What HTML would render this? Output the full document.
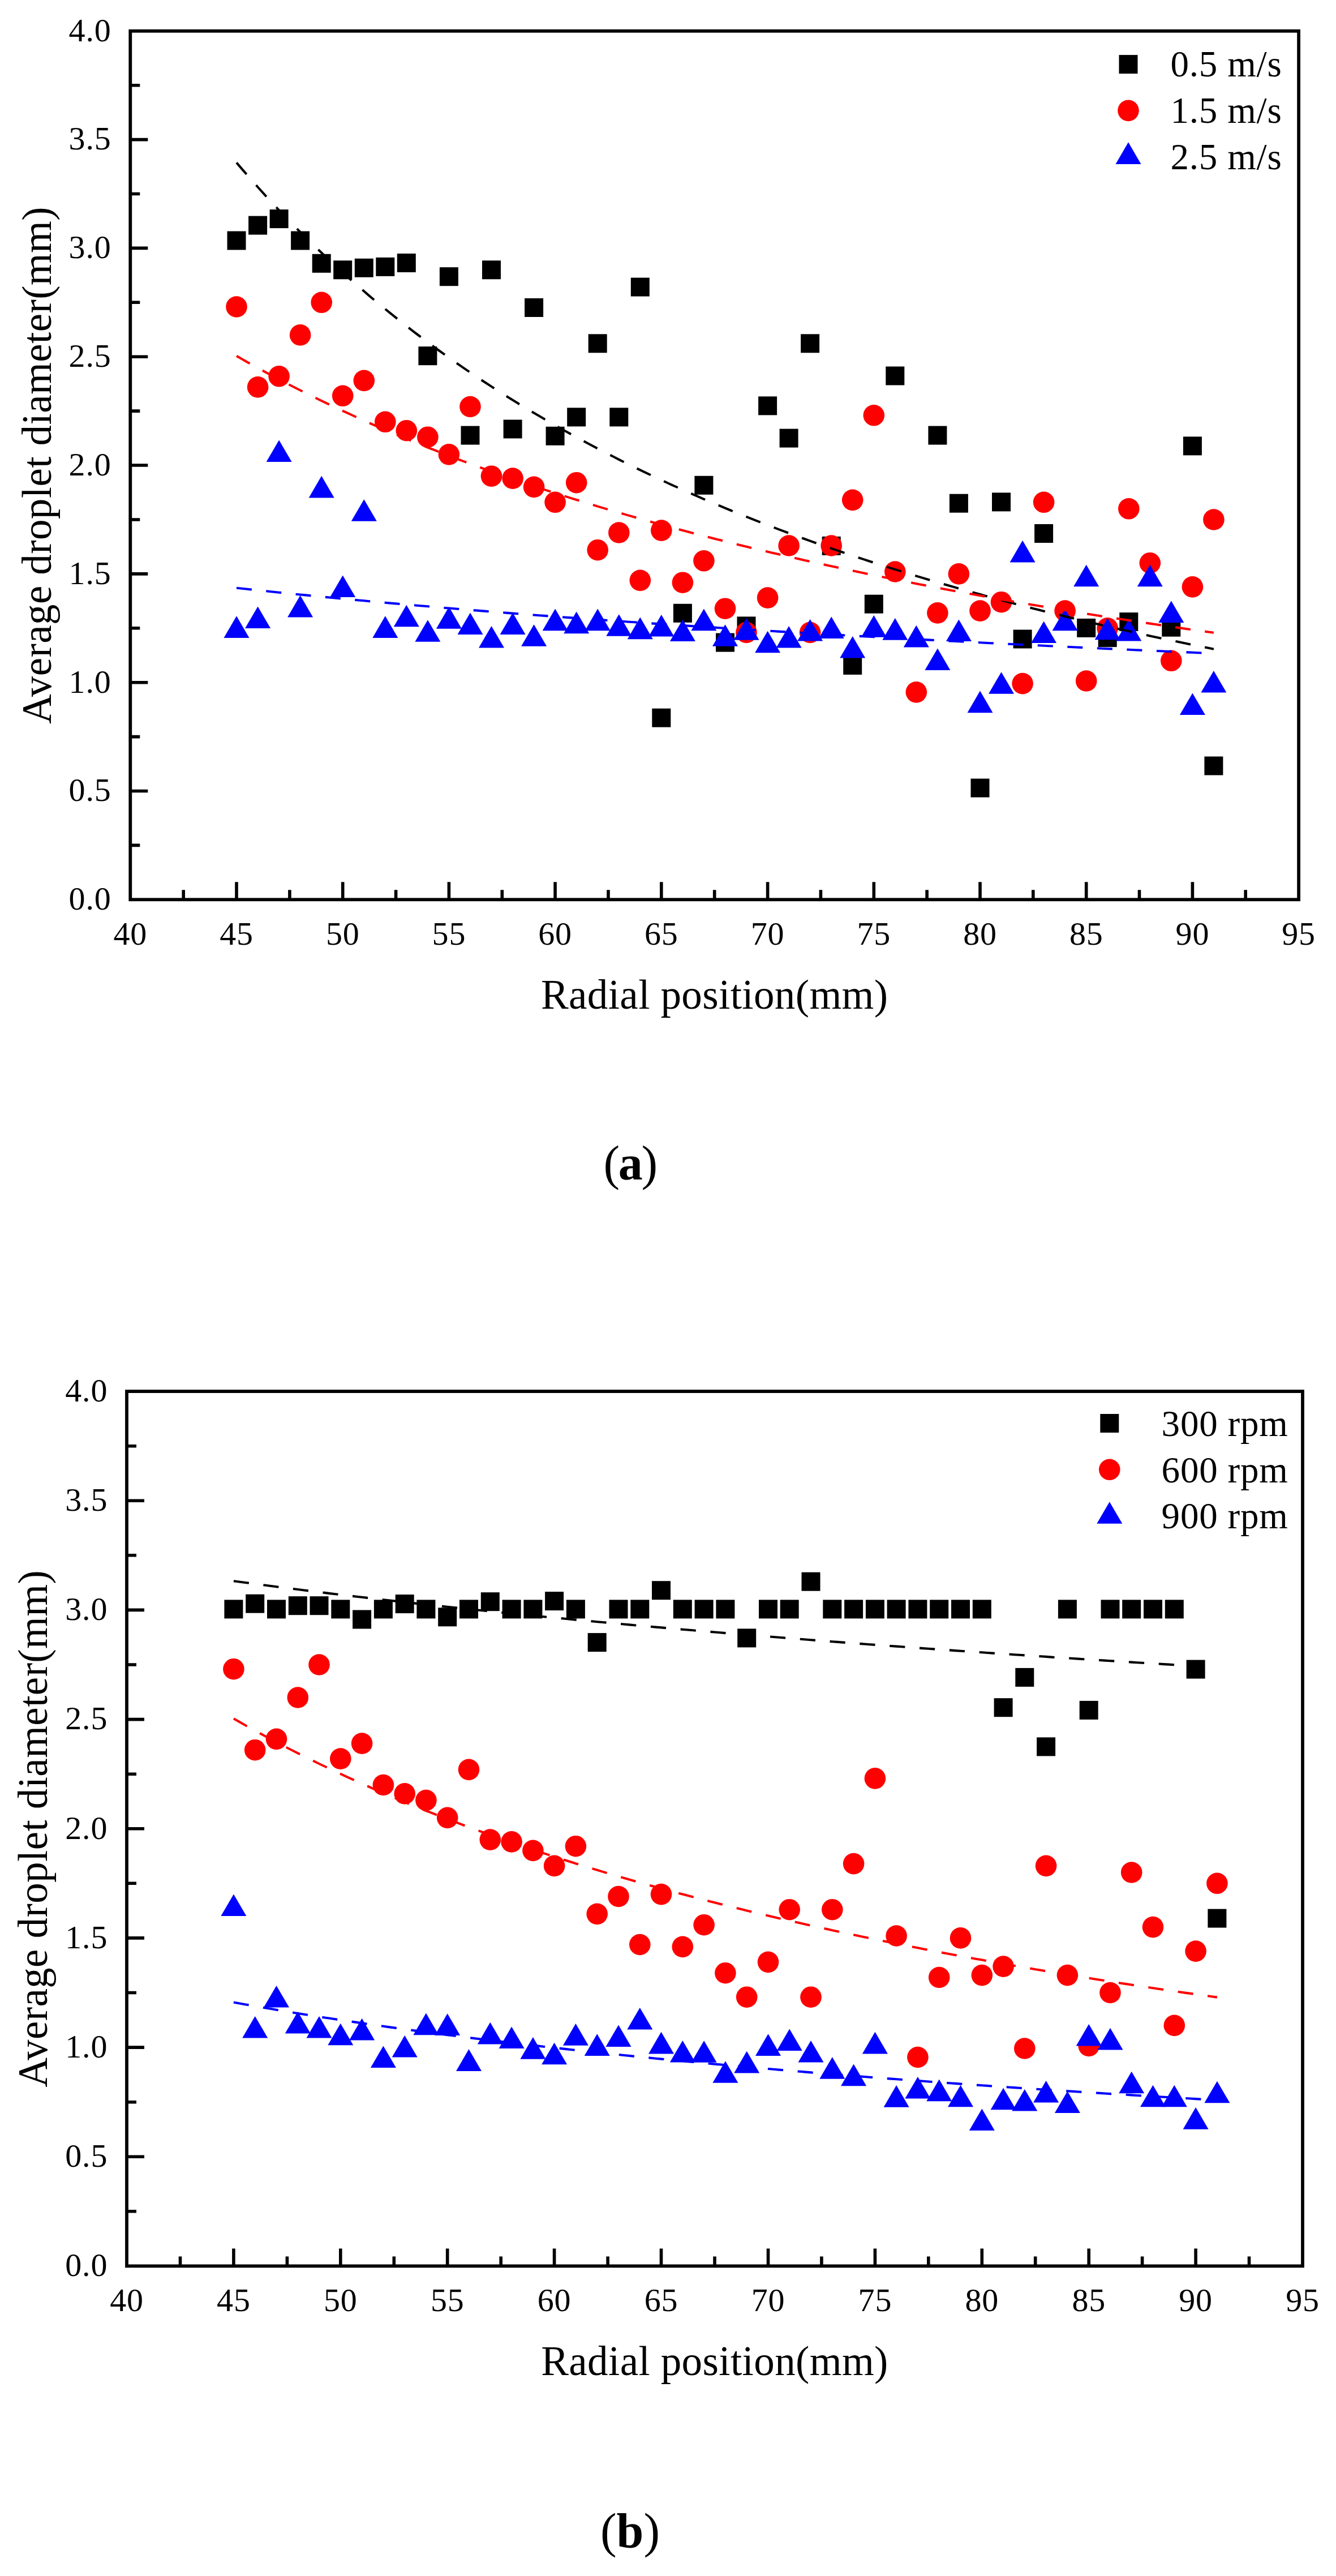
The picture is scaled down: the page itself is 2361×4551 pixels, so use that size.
<!DOCTYPE html>
<html><head><meta charset="utf-8"><title>Average droplet diameter vs radial position</title>
<style>html,body{margin:0;padding:0;background:#fff}svg{display:block}</style></head>
<body>
<svg width="2361" height="4551" viewBox="0 0 2361 4551">
<rect width="2361" height="4551" fill="#fff"/>
<path d="M324.2 1589.3v-17M418.0 1589.3v-31M511.9 1589.3v-17M605.7 1589.3v-31M699.6 1589.3v-17M793.4 1589.3v-31M887.3 1589.3v-17M981.1 1589.3v-31M1075.0 1589.3v-17M1168.8 1589.3v-31M1262.7 1589.3v-17M1356.6 1589.3v-31M1450.4 1589.3v-17M1544.3 1589.3v-31M1638.1 1589.3v-17M1732.0 1589.3v-31M1825.8 1589.3v-17M1919.7 1589.3v-31M2013.5 1589.3v-17M2107.4 1589.3v-31M2201.2 1589.3v-17M230.3 1493.4h17M230.3 1397.5h31M230.3 1301.6h17M230.3 1205.7h31M230.3 1109.8h17M230.3 1013.9h31M230.3 918.0h17M230.3 822.0h31M230.3 726.1h17M230.3 630.2h31M230.3 534.3h17M230.3 438.4h31M230.3 342.5h17M230.3 246.6h31M230.3 150.7h17" stroke="#000" stroke-width="5.6" fill="none"/>
<rect x="230.3" y="54.8" width="2064.8" height="1534.5" fill="none" stroke="#000" stroke-width="5.8"/>
<g style="font-family:'Liberation Serif','Times New Roman',serif;font-size:58px;letter-spacing:0.8px" fill="#000">
<text x="230.3" y="1668.5" text-anchor="middle">40</text>
<text x="418.0" y="1668.5" text-anchor="middle">45</text>
<text x="605.7" y="1668.5" text-anchor="middle">50</text>
<text x="793.4" y="1668.5" text-anchor="middle">55</text>
<text x="981.1" y="1668.5" text-anchor="middle">60</text>
<text x="1168.8" y="1668.5" text-anchor="middle">65</text>
<text x="1356.6" y="1668.5" text-anchor="middle">70</text>
<text x="1544.3" y="1668.5" text-anchor="middle">75</text>
<text x="1732.0" y="1668.5" text-anchor="middle">80</text>
<text x="1919.7" y="1668.5" text-anchor="middle">85</text>
<text x="2107.4" y="1668.5" text-anchor="middle">90</text>
<text x="2295.1" y="1668.5" text-anchor="middle">95</text>
<text x="196.5" y="1607.1" text-anchor="end">0.0</text>
<text x="196.5" y="1415.3" text-anchor="end">0.5</text>
<text x="196.5" y="1223.5" text-anchor="end">1.0</text>
<text x="196.5" y="1031.7" text-anchor="end">1.5</text>
<text x="196.5" y="839.8" text-anchor="end">2.0</text>
<text x="196.5" y="648.0" text-anchor="end">2.5</text>
<text x="196.5" y="456.2" text-anchor="end">3.0</text>
<text x="196.5" y="264.4" text-anchor="end">3.5</text>
<text x="196.5" y="72.6" text-anchor="end">4.0</text>
</g>
<text x="1262.7" y="1782.1" text-anchor="middle" style="font-family:'Liberation Serif','Times New Roman',serif;font-size:73px;letter-spacing:0.38px">Radial position(mm)</text>
<text transform="translate(90.0 822.0) rotate(-90)" text-anchor="middle" style="font-family:'Liberation Serif','Times New Roman',serif;font-size:73px;letter-spacing:0.4px">Average droplet diameter(mm)</text>
<g fill="#000">
<rect x="401.5" y="408.5" width="33" height="33"/>
<rect x="439.1" y="381.6" width="33" height="33"/>
<rect x="476.6" y="370.1" width="33" height="33"/>
<rect x="514.1" y="408.5" width="33" height="33"/>
<rect x="551.7" y="448.8" width="33" height="33"/>
<rect x="589.2" y="460.3" width="33" height="33"/>
<rect x="626.8" y="456.8" width="33" height="33"/>
<rect x="664.3" y="454.9" width="33" height="33"/>
<rect x="701.8" y="448.0" width="33" height="33"/>
<rect x="739.4" y="612.2" width="33" height="33"/>
<rect x="776.9" y="472.2" width="33" height="33"/>
<rect x="814.5" y="752.6" width="33" height="33"/>
<rect x="852.0" y="460.3" width="33" height="33"/>
<rect x="889.6" y="741.5" width="33" height="33"/>
<rect x="927.1" y="527.0" width="33" height="33"/>
<rect x="964.6" y="753.8" width="33" height="33"/>
<rect x="1002.2" y="720.4" width="33" height="33"/>
<rect x="1039.7" y="590.3" width="33" height="33"/>
<rect x="1077.3" y="720.4" width="33" height="33"/>
<rect x="1114.8" y="490.6" width="33" height="33"/>
<rect x="1152.3" y="1251.7" width="33" height="33"/>
<rect x="1189.9" y="1066.8" width="33" height="33"/>
<rect x="1227.4" y="840.8" width="33" height="33"/>
<rect x="1265.0" y="1118.6" width="33" height="33"/>
<rect x="1302.5" y="1089.4" width="33" height="33"/>
<rect x="1340.1" y="700.4" width="33" height="33"/>
<rect x="1377.6" y="757.6" width="33" height="33"/>
<rect x="1415.1" y="590.3" width="33" height="33"/>
<rect x="1452.7" y="947.9" width="33" height="33"/>
<rect x="1490.2" y="1158.9" width="33" height="33"/>
<rect x="1527.8" y="1050.7" width="33" height="33"/>
<rect x="1565.3" y="647.5" width="33" height="33"/>
<rect x="1640.4" y="752.6" width="33" height="33"/>
<rect x="1677.9" y="872.7" width="33" height="33"/>
<rect x="1715.5" y="1375.6" width="33" height="33"/>
<rect x="1753.0" y="870.4" width="33" height="33"/>
<rect x="1790.6" y="1112.5" width="33" height="33"/>
<rect x="1828.1" y="926.0" width="33" height="33"/>
<rect x="1903.2" y="1092.9" width="33" height="33"/>
<rect x="1940.7" y="1110.1" width="33" height="33"/>
<rect x="1978.3" y="1082.1" width="33" height="33"/>
<rect x="2053.3" y="1091.7" width="33" height="33"/>
<rect x="2090.9" y="771.4" width="33" height="33"/>
<rect x="2128.4" y="1336.5" width="33" height="33"/>
</g>
<g fill="#ff0000">
<circle cx="418.0" cy="542.0" r="18.8"/>
<circle cx="455.6" cy="683.9" r="18.8"/>
<circle cx="493.1" cy="664.8" r="18.8"/>
<circle cx="530.6" cy="591.9" r="18.8"/>
<circle cx="568.2" cy="534.3" r="18.8"/>
<circle cx="605.7" cy="699.3" r="18.8"/>
<circle cx="643.3" cy="672.4" r="18.8"/>
<circle cx="680.8" cy="745.3" r="18.8"/>
<circle cx="718.3" cy="760.7" r="18.8"/>
<circle cx="755.9" cy="772.2" r="18.8"/>
<circle cx="793.4" cy="802.9" r="18.8"/>
<circle cx="831.0" cy="718.5" r="18.8"/>
<circle cx="868.5" cy="841.2" r="18.8"/>
<circle cx="906.1" cy="845.1" r="18.8"/>
<circle cx="943.6" cy="860.4" r="18.8"/>
<circle cx="981.1" cy="887.3" r="18.8"/>
<circle cx="1018.7" cy="852.7" r="18.8"/>
<circle cx="1056.2" cy="971.7" r="18.8"/>
<circle cx="1093.8" cy="941.0" r="18.8"/>
<circle cx="1131.3" cy="1025.4" r="18.8"/>
<circle cx="1168.8" cy="937.1" r="18.8"/>
<circle cx="1206.4" cy="1029.2" r="18.8"/>
<circle cx="1243.9" cy="990.8" r="18.8"/>
<circle cx="1281.5" cy="1075.2" r="18.8"/>
<circle cx="1319.0" cy="1117.4" r="18.8"/>
<circle cx="1356.6" cy="1056.1" r="18.8"/>
<circle cx="1394.1" cy="964.0" r="18.8"/>
<circle cx="1431.6" cy="1117.4" r="18.8"/>
<circle cx="1469.2" cy="964.0" r="18.8"/>
<circle cx="1506.7" cy="883.4" r="18.8"/>
<circle cx="1544.3" cy="733.8" r="18.8"/>
<circle cx="1581.8" cy="1010.0" r="18.8"/>
<circle cx="1619.3" cy="1222.9" r="18.8"/>
<circle cx="1656.9" cy="1082.9" r="18.8"/>
<circle cx="1694.4" cy="1013.9" r="18.8"/>
<circle cx="1732.0" cy="1079.1" r="18.8"/>
<circle cx="1769.5" cy="1063.7" r="18.8"/>
<circle cx="1807.1" cy="1207.6" r="18.8"/>
<circle cx="1844.6" cy="887.3" r="18.8"/>
<circle cx="1882.1" cy="1079.1" r="18.8"/>
<circle cx="1919.7" cy="1203.0" r="18.8"/>
<circle cx="1957.2" cy="1109.8" r="18.8"/>
<circle cx="1994.8" cy="898.8" r="18.8"/>
<circle cx="2032.3" cy="994.7" r="18.8"/>
<circle cx="2069.8" cy="1167.3" r="18.8"/>
<circle cx="2107.4" cy="1036.9" r="18.8"/>
<circle cx="2144.9" cy="918.0" r="18.8"/>
</g>
<g fill="#0000ff">
<path d="M395.5 1126.9h45l-22.5 -38.6z"/>
<path d="M433.1 1110.0h45l-22.5 -38.6z"/>
<path d="M470.6 816.1h45l-22.5 -38.6z"/>
<path d="M508.1 1090.4h45l-22.5 -38.6z"/>
<path d="M545.7 879.4h45l-22.5 -38.6z"/>
<path d="M583.2 1055.1h45l-22.5 -38.6z"/>
<path d="M620.8 920.8h45l-22.5 -38.6z"/>
<path d="M658.3 1126.9h45l-22.5 -38.6z"/>
<path d="M695.8 1107.3h45l-22.5 -38.6z"/>
<path d="M733.4 1133.8h45l-22.5 -38.6z"/>
<path d="M770.9 1110.7h45l-22.5 -38.6z"/>
<path d="M808.5 1121.1h45l-22.5 -38.6z"/>
<path d="M846.0 1144.5h45l-22.5 -38.6z"/>
<path d="M883.6 1121.1h45l-22.5 -38.6z"/>
<path d="M921.1 1141.8h45l-22.5 -38.6z"/>
<path d="M958.6 1114.2h45l-22.5 -38.6z"/>
<path d="M996.2 1119.2h45l-22.5 -38.6z"/>
<path d="M1033.7 1114.2h45l-22.5 -38.6z"/>
<path d="M1071.3 1123.8h45l-22.5 -38.6z"/>
<path d="M1108.8 1129.2h45l-22.5 -38.6z"/>
<path d="M1146.3 1124.6h45l-22.5 -38.6z"/>
<path d="M1183.9 1133.0h45l-22.5 -38.6z"/>
<path d="M1221.4 1114.2h45l-22.5 -38.6z"/>
<path d="M1259.0 1141.8h45l-22.5 -38.6z"/>
<path d="M1296.5 1130.7h45l-22.5 -38.6z"/>
<path d="M1334.1 1153.3h45l-22.5 -38.6z"/>
<path d="M1371.6 1144.5h45l-22.5 -38.6z"/>
<path d="M1409.1 1132.6h45l-22.5 -38.6z"/>
<path d="M1446.7 1128.0h45l-22.5 -38.6z"/>
<path d="M1484.2 1162.5h45l-22.5 -38.6z"/>
<path d="M1521.8 1125.7h45l-22.5 -38.6z"/>
<path d="M1559.3 1130.7h45l-22.5 -38.6z"/>
<path d="M1596.8 1143.4h45l-22.5 -38.6z"/>
<path d="M1634.4 1184.0h45l-22.5 -38.6z"/>
<path d="M1671.9 1133.0h45l-22.5 -38.6z"/>
<path d="M1709.5 1259.2h45l-22.5 -38.6z"/>
<path d="M1747.0 1225.8h45l-22.5 -38.6z"/>
<path d="M1784.6 993.4h45l-22.5 -38.6z"/>
<path d="M1822.1 1136.1h45l-22.5 -38.6z"/>
<path d="M1859.6 1114.2h45l-22.5 -38.6z"/>
<path d="M1897.2 1036.3h45l-22.5 -38.6z"/>
<path d="M1934.7 1130.3h45l-22.5 -38.6z"/>
<path d="M1972.3 1132.6h45l-22.5 -38.6z"/>
<path d="M2009.8 1036.3h45l-22.5 -38.6z"/>
<path d="M2047.3 1100.0h45l-22.5 -38.6z"/>
<path d="M2084.9 1263.0h45l-22.5 -38.6z"/>
<path d="M2122.4 1223.5h45l-22.5 -38.6z"/>
</g>
<polyline points="418.0,287.4 427.4,298.4 436.8,309.2 446.2,319.9 455.6,330.5 464.9,340.9 474.3,351.1 483.7,361.3 493.1,371.3 502.5,381.1 511.9,390.9 521.2,400.5 530.6,409.9 540.0,419.3 549.4,428.5 558.8,437.6 568.2,446.6 577.6,455.5 586.9,464.2 596.3,472.9 605.7,481.4 615.1,489.9 624.5,498.2 633.9,506.4 643.3,514.5 652.6,522.6 662.0,530.5 671.4,538.3 680.8,546.0 690.2,553.7 699.6,561.2 709.0,568.7 718.3,576.0 727.7,583.3 737.1,590.5 746.5,597.6 755.9,604.7 765.3,611.6 774.7,618.5 784.0,625.2 793.4,632.0 802.8,638.6 812.2,645.1 821.6,651.6 831.0,658.0 840.4,664.4 849.7,670.6 859.1,676.8 868.5,682.9 877.9,689.0 887.3,695.0 896.7,700.9 906.1,706.8 915.4,712.6 924.8,718.3 934.2,724.0 943.6,729.6 953.0,735.1 962.4,740.6 971.8,746.1 981.1,751.4 990.5,756.8 999.9,762.0 1009.3,767.2 1018.7,772.4 1028.1,777.5 1037.4,782.5 1046.8,787.5 1056.2,792.5 1065.6,797.4 1075.0,802.2 1084.4,807.0 1093.8,811.8 1103.1,816.5 1112.5,821.1 1121.9,825.8 1131.3,830.3 1140.7,834.8 1150.1,839.3 1159.5,843.7 1168.8,848.1 1178.2,852.5 1187.6,856.8 1197.0,861.0 1206.4,865.3 1215.8,869.5 1225.2,873.6 1234.5,877.7 1243.9,881.8 1253.3,885.8 1262.7,889.8 1272.1,893.7 1281.5,897.6 1290.9,901.5 1300.2,905.4 1309.6,909.2 1319.0,912.9 1328.4,916.7 1337.8,920.4 1347.2,924.0 1356.6,927.7 1365.9,931.3 1375.3,934.9 1384.7,938.4 1394.1,941.9 1403.5,945.4 1412.9,948.8 1422.3,952.2 1431.6,955.6 1441.0,959.0 1450.4,962.3 1459.8,965.6 1469.2,968.9 1478.6,972.1 1488.0,975.3 1497.3,978.5 1506.7,981.7 1516.1,984.8 1525.5,987.9 1534.9,991.0 1544.3,994.1 1553.6,997.1 1563.0,1000.1 1572.4,1003.1 1581.8,1006.0 1591.2,1008.9 1600.6,1011.8 1610.0,1014.7 1619.3,1017.6 1628.7,1020.4 1638.1,1023.2 1647.5,1026.0 1656.9,1028.8 1666.3,1031.5 1675.7,1034.2 1685.0,1036.9 1694.4,1039.6 1703.8,1042.3 1713.2,1044.9 1722.6,1047.5 1732.0,1050.1 1741.4,1052.7 1750.7,1055.2 1760.1,1057.7 1769.5,1060.3 1778.9,1062.7 1788.3,1065.2 1797.7,1067.7 1807.1,1070.1 1816.4,1072.5 1825.8,1074.9 1835.2,1077.3 1844.6,1079.7 1854.0,1082.0 1863.4,1084.3 1872.8,1086.6 1882.1,1088.9 1891.5,1091.2 1900.9,1093.5 1910.3,1095.7 1919.7,1097.9 1929.1,1100.1 1938.5,1102.3 1947.8,1104.5 1957.2,1106.6 1966.6,1108.8 1976.0,1110.9 1985.4,1113.0 1994.8,1115.1 2004.2,1117.2 2013.5,1119.3 2022.9,1121.3 2032.3,1123.4 2041.7,1125.4 2051.1,1127.4 2060.5,1129.4 2069.8,1131.3 2079.2,1133.3 2088.6,1135.3 2098.0,1137.2 2107.4,1139.1 2116.8,1141.0 2126.2,1142.9 2135.5,1144.8 2144.9,1146.7" fill="none" stroke="#000" stroke-width="4.1" stroke-dasharray="27.13 25.62"/>
<polyline points="418.0,628.9 427.4,634.3 436.8,639.6 446.2,644.8 455.6,650.0 464.9,655.1 474.3,660.2 483.7,665.2 493.1,670.2 502.5,675.1 511.9,680.0 521.2,684.8 530.6,689.5 540.0,694.2 549.4,698.9 558.8,703.5 568.2,708.1 577.6,712.6 586.9,717.1 596.3,721.5 605.7,725.9 615.1,730.2 624.5,734.5 633.9,738.8 643.3,743.0 652.6,747.2 662.0,751.3 671.4,755.4 680.8,759.4 690.2,763.4 699.6,767.4 709.0,771.3 718.3,775.2 727.7,779.1 737.1,782.9 746.5,786.7 755.9,790.5 765.3,794.2 774.7,797.9 784.0,801.5 793.4,805.2 802.8,808.7 812.2,812.3 821.6,815.8 831.0,819.3 840.4,822.8 849.7,826.2 859.1,829.6 868.5,832.9 877.9,836.3 887.3,839.6 896.7,842.9 906.1,846.1 915.4,849.3 924.8,852.5 934.2,855.7 943.6,858.8 953.0,862.0 962.4,865.1 971.8,868.1 981.1,871.1 990.5,874.2 999.9,877.1 1009.3,880.1 1018.7,883.0 1028.1,886.0 1037.4,888.8 1046.8,891.7 1056.2,894.6 1065.6,897.4 1075.0,900.2 1084.4,902.9 1093.8,905.7 1103.1,908.4 1112.5,911.1 1121.9,913.8 1131.3,916.5 1140.7,919.1 1150.1,921.8 1159.5,924.4 1168.8,926.9 1178.2,929.5 1187.6,932.1 1197.0,934.6 1206.4,937.1 1215.8,939.6 1225.2,942.0 1234.5,944.5 1243.9,946.9 1253.3,949.3 1262.7,951.7 1272.1,954.1 1281.5,956.5 1290.9,958.8 1300.2,961.1 1309.6,963.4 1319.0,965.7 1328.4,968.0 1337.8,970.3 1347.2,972.5 1356.6,974.7 1365.9,976.9 1375.3,979.1 1384.7,981.3 1394.1,983.5 1403.5,985.6 1412.9,987.8 1422.3,989.9 1431.6,992.0 1441.0,994.1 1450.4,996.1 1459.8,998.2 1469.2,1000.2 1478.6,1002.3 1488.0,1004.3 1497.3,1006.3 1506.7,1008.3 1516.1,1010.3 1525.5,1012.2 1534.9,1014.2 1544.3,1016.1 1553.6,1018.0 1563.0,1019.9 1572.4,1021.8 1581.8,1023.7 1591.2,1025.6 1600.6,1027.5 1610.0,1029.3 1619.3,1031.2 1628.7,1033.0 1638.1,1034.8 1647.5,1036.6 1656.9,1038.4 1666.3,1040.2 1675.7,1041.9 1685.0,1043.7 1694.4,1045.4 1703.8,1047.2 1713.2,1048.9 1722.6,1050.6 1732.0,1052.3 1741.4,1054.0 1750.7,1055.7 1760.1,1057.3 1769.5,1059.0 1778.9,1060.6 1788.3,1062.3 1797.7,1063.9 1807.1,1065.5 1816.4,1067.1 1825.8,1068.7 1835.2,1070.3 1844.6,1071.9 1854.0,1073.5 1863.4,1075.0 1872.8,1076.6 1882.1,1078.1 1891.5,1079.7 1900.9,1081.2 1910.3,1082.7 1919.7,1084.2 1929.1,1085.7 1938.5,1087.2 1947.8,1088.7 1957.2,1090.1 1966.6,1091.6 1976.0,1093.1 1985.4,1094.5 1994.8,1095.9 2004.2,1097.4 2013.5,1098.8 2022.9,1100.2 2032.3,1101.6 2041.7,1103.0 2051.1,1104.4 2060.5,1105.8 2069.8,1107.1 2079.2,1108.5 2088.6,1109.9 2098.0,1111.2 2107.4,1112.5 2116.8,1113.9 2126.2,1115.2 2135.5,1116.5 2144.9,1117.8" fill="none" stroke="#ff0000" stroke-width="4.1" stroke-dasharray="27.07 25.56"/>
<polyline points="418.0,1038.7 427.4,1039.7 436.8,1040.8 446.2,1041.8 455.6,1042.8 464.9,1043.8 474.3,1044.7 483.7,1045.7 493.1,1046.7 502.5,1047.6 511.9,1048.6 521.2,1049.6 530.6,1050.5 540.0,1051.4 549.4,1052.4 558.8,1053.3 568.2,1054.2 577.6,1055.1 586.9,1056.0 596.3,1056.9 605.7,1057.8 615.1,1058.7 624.5,1059.6 633.9,1060.5 643.3,1061.3 652.6,1062.2 662.0,1063.0 671.4,1063.9 680.8,1064.7 690.2,1065.6 699.6,1066.4 709.0,1067.3 718.3,1068.1 727.7,1068.9 737.1,1069.7 746.5,1070.5 755.9,1071.3 765.3,1072.1 774.7,1072.9 784.0,1073.7 793.4,1074.5 802.8,1075.3 812.2,1076.1 821.6,1076.8 831.0,1077.6 840.4,1078.4 849.7,1079.1 859.1,1079.9 868.5,1080.6 877.9,1081.4 887.3,1082.1 896.7,1082.9 906.1,1083.6 915.4,1084.3 924.8,1085.0 934.2,1085.8 943.6,1086.5 953.0,1087.2 962.4,1087.9 971.8,1088.6 981.1,1089.3 990.5,1090.0 999.9,1090.7 1009.3,1091.4 1018.7,1092.1 1028.1,1092.7 1037.4,1093.4 1046.8,1094.1 1056.2,1094.8 1065.6,1095.4 1075.0,1096.1 1084.4,1096.7 1093.8,1097.4 1103.1,1098.0 1112.5,1098.7 1121.9,1099.3 1131.3,1100.0 1140.7,1100.6 1150.1,1101.3 1159.5,1101.9 1168.8,1102.5 1178.2,1103.1 1187.6,1103.8 1197.0,1104.4 1206.4,1105.0 1215.8,1105.6 1225.2,1106.2 1234.5,1106.8 1243.9,1107.4 1253.3,1108.0 1262.7,1108.6 1272.1,1109.2 1281.5,1109.8 1290.9,1110.4 1300.2,1111.0 1309.6,1111.6 1319.0,1112.2 1328.4,1112.7 1337.8,1113.3 1347.2,1113.9 1356.6,1114.4 1365.9,1115.0 1375.3,1115.6 1384.7,1116.1 1394.1,1116.7 1403.5,1117.3 1412.9,1117.8 1422.3,1118.4 1431.6,1118.9 1441.0,1119.5 1450.4,1120.0 1459.8,1120.5 1469.2,1121.1 1478.6,1121.6 1488.0,1122.1 1497.3,1122.7 1506.7,1123.2 1516.1,1123.7 1525.5,1124.3 1534.9,1124.8 1544.3,1125.3 1553.6,1125.8 1563.0,1126.3 1572.4,1126.8 1581.8,1127.3 1591.2,1127.9 1600.6,1128.4 1610.0,1128.9 1619.3,1129.4 1628.7,1129.9 1638.1,1130.4 1647.5,1130.9 1656.9,1131.4 1666.3,1131.8 1675.7,1132.3 1685.0,1132.8 1694.4,1133.3 1703.8,1133.8 1713.2,1134.3 1722.6,1134.7 1732.0,1135.2 1741.4,1135.7 1750.7,1136.2 1760.1,1136.6 1769.5,1137.1 1778.9,1137.6 1788.3,1138.0 1797.7,1138.5 1807.1,1139.0 1816.4,1139.4 1825.8,1139.9 1835.2,1140.3 1844.6,1140.8 1854.0,1141.2 1863.4,1141.7 1872.8,1142.1 1882.1,1142.6 1891.5,1143.0 1900.9,1143.5 1910.3,1143.9 1919.7,1144.3 1929.1,1144.8 1938.5,1145.2 1947.8,1145.7 1957.2,1146.1 1966.6,1146.5 1976.0,1146.9 1985.4,1147.4 1994.8,1147.8 2004.2,1148.2 2013.5,1148.6 2022.9,1149.1 2032.3,1149.5 2041.7,1149.9 2051.1,1150.3 2060.5,1150.7 2069.8,1151.1 2079.2,1151.6 2088.6,1152.0 2098.0,1152.4 2107.4,1152.8 2116.8,1153.2 2126.2,1153.6 2135.5,1154.0 2144.9,1154.4" fill="none" stroke="#0000ff" stroke-width="4.1" stroke-dasharray="27.04 25.54"/>
<g style="font-family:'Liberation Serif','Times New Roman',serif;font-size:65px;letter-spacing:0.8px">
<g fill="#000"><rect x="1977.5" y="97.1" width="33" height="33"/></g><text x="2068.5" y="134.7">0.5 m/s</text>
<g fill="#ff0000"><circle cx="1994.0" cy="195.4" r="18.8"/></g><text x="2068.5" y="216.5">1.5 m/s</text>
<g fill="#0000ff"><path d="M1971.5 289.9h45l-22.5 -38.6z"/></g><text x="2068.5" y="298.6">2.5 m/s</text>
</g>
<text x="1112" y="2084" text-anchor="middle" style="font-family:'Liberation Serif','Times New Roman',serif;font-size:86px"><tspan dx="2.3">(</tspan><tspan font-weight="bold" dx="-2.3">a</tspan><tspan dx="-2.3">)</tspan></text>
<path d="M318.5 4003.4v-17M412.9 4003.4v-31M507.4 4003.4v-17M601.8 4003.4v-31M696.3 4003.4v-17M790.7 4003.4v-31M885.2 4003.4v-17M979.6 4003.4v-31M1074.1 4003.4v-17M1168.5 4003.4v-31M1263.0 4003.4v-17M1357.5 4003.4v-31M1451.9 4003.4v-17M1546.4 4003.4v-31M1640.8 4003.4v-17M1735.3 4003.4v-31M1829.7 4003.4v-17M1924.2 4003.4v-31M2018.6 4003.4v-17M2113.1 4003.4v-31M2207.5 4003.4v-17M224 3906.8h17M224 3810.2h31M224 3713.7h17M224 3617.1h31M224 3520.5h17M224 3423.9h31M224 3327.3h17M224 3230.8h31M224 3134.2h17M224 3037.6h31M224 2941.0h17M224 2844.4h31M224 2747.8h17M224 2651.3h31M224 2554.7h17" stroke="#000" stroke-width="5.6" fill="none"/>
<rect x="224" y="2458.1" width="2078.0" height="1545.3" fill="none" stroke="#000" stroke-width="5.8"/>
<g style="font-family:'Liberation Serif','Times New Roman',serif;font-size:58px;letter-spacing:0.8px" fill="#000">
<text x="224.0" y="4082.6" text-anchor="middle">40</text>
<text x="412.9" y="4082.6" text-anchor="middle">45</text>
<text x="601.8" y="4082.6" text-anchor="middle">50</text>
<text x="790.7" y="4082.6" text-anchor="middle">55</text>
<text x="979.6" y="4082.6" text-anchor="middle">60</text>
<text x="1168.5" y="4082.6" text-anchor="middle">65</text>
<text x="1357.5" y="4082.6" text-anchor="middle">70</text>
<text x="1546.4" y="4082.6" text-anchor="middle">75</text>
<text x="1735.3" y="4082.6" text-anchor="middle">80</text>
<text x="1924.2" y="4082.6" text-anchor="middle">85</text>
<text x="2113.1" y="4082.6" text-anchor="middle">90</text>
<text x="2302.0" y="4082.6" text-anchor="middle">95</text>
<text x="190.2" y="4021.2" text-anchor="end">0.0</text>
<text x="190.2" y="3828.0" text-anchor="end">0.5</text>
<text x="190.2" y="3634.9" text-anchor="end">1.0</text>
<text x="190.2" y="3441.7" text-anchor="end">1.5</text>
<text x="190.2" y="3248.6" text-anchor="end">2.0</text>
<text x="190.2" y="3055.4" text-anchor="end">2.5</text>
<text x="190.2" y="2862.2" text-anchor="end">3.0</text>
<text x="190.2" y="2669.1" text-anchor="end">3.5</text>
<text x="190.2" y="2475.9" text-anchor="end">4.0</text>
</g>
<text x="1263.0" y="4196.2" text-anchor="middle" style="font-family:'Liberation Serif','Times New Roman',serif;font-size:73px;letter-spacing:0.38px">Radial position(mm)</text>
<text transform="translate(82.5 3230.8) rotate(-90)" text-anchor="middle" style="font-family:'Liberation Serif','Times New Roman',serif;font-size:73px;letter-spacing:0.4px">Average droplet diameter(mm)</text>
<g fill="#000">
<rect x="396.4" y="2826.4" width="33" height="33"/>
<rect x="434.2" y="2816.7" width="33" height="33"/>
<rect x="472.0" y="2826.4" width="33" height="33"/>
<rect x="509.8" y="2820.2" width="33" height="33"/>
<rect x="547.5" y="2820.2" width="33" height="33"/>
<rect x="585.3" y="2826.4" width="33" height="33"/>
<rect x="623.1" y="2844.5" width="33" height="33"/>
<rect x="660.9" y="2826.4" width="33" height="33"/>
<rect x="698.7" y="2817.1" width="33" height="33"/>
<rect x="736.4" y="2826.4" width="33" height="33"/>
<rect x="774.2" y="2840.3" width="33" height="33"/>
<rect x="812.0" y="2826.4" width="33" height="33"/>
<rect x="849.8" y="2813.2" width="33" height="33"/>
<rect x="887.6" y="2826.4" width="33" height="33"/>
<rect x="925.4" y="2826.4" width="33" height="33"/>
<rect x="963.1" y="2812.1" width="33" height="33"/>
<rect x="1000.9" y="2826.4" width="33" height="33"/>
<rect x="1038.7" y="2885.1" width="33" height="33"/>
<rect x="1076.5" y="2826.4" width="33" height="33"/>
<rect x="1114.3" y="2826.4" width="33" height="33"/>
<rect x="1152.0" y="2793.2" width="33" height="33"/>
<rect x="1189.8" y="2826.4" width="33" height="33"/>
<rect x="1227.6" y="2826.4" width="33" height="33"/>
<rect x="1265.4" y="2826.4" width="33" height="33"/>
<rect x="1303.2" y="2877.4" width="33" height="33"/>
<rect x="1341.0" y="2826.4" width="33" height="33"/>
<rect x="1378.7" y="2826.4" width="33" height="33"/>
<rect x="1416.5" y="2777.7" width="33" height="33"/>
<rect x="1454.3" y="2826.4" width="33" height="33"/>
<rect x="1492.1" y="2826.4" width="33" height="33"/>
<rect x="1529.9" y="2826.4" width="33" height="33"/>
<rect x="1567.6" y="2826.4" width="33" height="33"/>
<rect x="1605.4" y="2826.4" width="33" height="33"/>
<rect x="1643.2" y="2826.4" width="33" height="33"/>
<rect x="1681.0" y="2826.4" width="33" height="33"/>
<rect x="1718.8" y="2826.4" width="33" height="33"/>
<rect x="1756.6" y="3000.2" width="33" height="33"/>
<rect x="1794.3" y="2946.9" width="33" height="33"/>
<rect x="1832.1" y="3069.4" width="33" height="33"/>
<rect x="1869.9" y="2826.4" width="33" height="33"/>
<rect x="1907.7" y="3004.9" width="33" height="33"/>
<rect x="1945.5" y="2826.4" width="33" height="33"/>
<rect x="1983.2" y="2826.4" width="33" height="33"/>
<rect x="2021.0" y="2826.4" width="33" height="33"/>
<rect x="2058.8" y="2826.4" width="33" height="33"/>
<rect x="2096.6" y="2932.6" width="33" height="33"/>
<rect x="2134.4" y="3372.6" width="33" height="33"/>
</g>
<g fill="#ff0000">
<circle cx="412.9" cy="2948.7" r="18.8"/>
<circle cx="450.7" cy="3091.7" r="18.8"/>
<circle cx="488.5" cy="3072.4" r="18.8"/>
<circle cx="526.3" cy="2999.0" r="18.8"/>
<circle cx="564.0" cy="2941.0" r="18.8"/>
<circle cx="601.8" cy="3107.1" r="18.8"/>
<circle cx="639.6" cy="3080.1" r="18.8"/>
<circle cx="677.4" cy="3153.5" r="18.8"/>
<circle cx="715.2" cy="3168.9" r="18.8"/>
<circle cx="752.9" cy="3180.5" r="18.8"/>
<circle cx="790.7" cy="3211.4" r="18.8"/>
<circle cx="828.5" cy="3126.4" r="18.8"/>
<circle cx="866.3" cy="3250.1" r="18.8"/>
<circle cx="904.1" cy="3253.9" r="18.8"/>
<circle cx="941.9" cy="3269.4" r="18.8"/>
<circle cx="979.6" cy="3296.4" r="18.8"/>
<circle cx="1017.4" cy="3261.7" r="18.8"/>
<circle cx="1055.2" cy="3381.4" r="18.8"/>
<circle cx="1093.0" cy="3350.5" r="18.8"/>
<circle cx="1130.8" cy="3435.5" r="18.8"/>
<circle cx="1168.5" cy="3346.6" r="18.8"/>
<circle cx="1206.3" cy="3439.4" r="18.8"/>
<circle cx="1244.1" cy="3400.7" r="18.8"/>
<circle cx="1281.9" cy="3485.7" r="18.8"/>
<circle cx="1319.7" cy="3528.2" r="18.8"/>
<circle cx="1357.5" cy="3466.4" r="18.8"/>
<circle cx="1395.2" cy="3373.7" r="18.8"/>
<circle cx="1433.0" cy="3528.2" r="18.8"/>
<circle cx="1470.8" cy="3373.7" r="18.8"/>
<circle cx="1508.6" cy="3292.6" r="18.8"/>
<circle cx="1546.4" cy="3141.9" r="18.8"/>
<circle cx="1584.1" cy="3420.0" r="18.8"/>
<circle cx="1621.9" cy="3634.5" r="18.8"/>
<circle cx="1659.7" cy="3493.5" r="18.8"/>
<circle cx="1697.5" cy="3423.9" r="18.8"/>
<circle cx="1735.3" cy="3489.6" r="18.8"/>
<circle cx="1773.1" cy="3474.1" r="18.8"/>
<circle cx="1810.8" cy="3619.0" r="18.8"/>
<circle cx="1848.6" cy="3296.4" r="18.8"/>
<circle cx="1886.4" cy="3489.6" r="18.8"/>
<circle cx="1924.2" cy="3614.4" r="18.8"/>
<circle cx="1962.0" cy="3520.5" r="18.8"/>
<circle cx="1999.7" cy="3308.0" r="18.8"/>
<circle cx="2037.5" cy="3404.6" r="18.8"/>
<circle cx="2075.3" cy="3578.4" r="18.8"/>
<circle cx="2113.1" cy="3447.1" r="18.8"/>
<circle cx="2150.9" cy="3327.3" r="18.8"/>
</g>
<g fill="#0000ff">
<path d="M390.4 3385.0h45l-22.5 -38.6z"/>
<path d="M428.2 3600.6h45l-22.5 -38.6z"/>
<path d="M466.0 3546.5h45l-22.5 -38.6z"/>
<path d="M503.8 3592.5h45l-22.5 -38.6z"/>
<path d="M541.5 3600.6h45l-22.5 -38.6z"/>
<path d="M579.3 3613.3h45l-22.5 -38.6z"/>
<path d="M617.1 3604.4h45l-22.5 -38.6z"/>
<path d="M654.9 3653.1h45l-22.5 -38.6z"/>
<path d="M692.7 3634.6h45l-22.5 -38.6z"/>
<path d="M730.4 3595.2h45l-22.5 -38.6z"/>
<path d="M768.2 3595.9h45l-22.5 -38.6z"/>
<path d="M806.0 3658.9h45l-22.5 -38.6z"/>
<path d="M843.8 3611.4h45l-22.5 -38.6z"/>
<path d="M881.6 3619.1h45l-22.5 -38.6z"/>
<path d="M919.4 3637.7h45l-22.5 -38.6z"/>
<path d="M957.1 3647.3h45l-22.5 -38.6z"/>
<path d="M994.9 3613.7h45l-22.5 -38.6z"/>
<path d="M1032.7 3631.9h45l-22.5 -38.6z"/>
<path d="M1070.5 3616.0h45l-22.5 -38.6z"/>
<path d="M1108.3 3585.5h45l-22.5 -38.6z"/>
<path d="M1146.0 3628.4h45l-22.5 -38.6z"/>
<path d="M1183.8 3643.5h45l-22.5 -38.6z"/>
<path d="M1221.6 3643.8h45l-22.5 -38.6z"/>
<path d="M1259.4 3679.8h45l-22.5 -38.6z"/>
<path d="M1297.2 3662.4h45l-22.5 -38.6z"/>
<path d="M1335.0 3631.9h45l-22.5 -38.6z"/>
<path d="M1372.7 3623.0h45l-22.5 -38.6z"/>
<path d="M1410.5 3643.5h45l-22.5 -38.6z"/>
<path d="M1448.3 3672.8h45l-22.5 -38.6z"/>
<path d="M1486.1 3685.2h45l-22.5 -38.6z"/>
<path d="M1523.9 3628.4h45l-22.5 -38.6z"/>
<path d="M1561.6 3722.7h45l-22.5 -38.6z"/>
<path d="M1599.4 3707.6h45l-22.5 -38.6z"/>
<path d="M1637.2 3712.2h45l-22.5 -38.6z"/>
<path d="M1675.0 3722.3h45l-22.5 -38.6z"/>
<path d="M1712.8 3764.0h45l-22.5 -38.6z"/>
<path d="M1750.6 3727.3h45l-22.5 -38.6z"/>
<path d="M1788.3 3729.6h45l-22.5 -38.6z"/>
<path d="M1826.1 3714.5h45l-22.5 -38.6z"/>
<path d="M1863.9 3733.1h45l-22.5 -38.6z"/>
<path d="M1901.7 3614.5h45l-22.5 -38.6z"/>
<path d="M1939.5 3621.4h45l-22.5 -38.6z"/>
<path d="M1977.2 3698.3h45l-22.5 -38.6z"/>
<path d="M2015.0 3722.3h45l-22.5 -38.6z"/>
<path d="M2052.8 3722.3h45l-22.5 -38.6z"/>
<path d="M2090.6 3761.7h45l-22.5 -38.6z"/>
<path d="M2128.4 3715.3h45l-22.5 -38.6z"/>
</g>
<polyline points="412.9,2793.2 422.4,2794.5 431.8,2795.8 441.2,2797.0 450.7,2798.3 460.1,2799.5 469.6,2800.8 479.0,2802.0 488.5,2803.2 497.9,2804.4 507.4,2805.7 516.8,2806.9 526.3,2808.0 535.7,2809.2 545.1,2810.4 554.6,2811.6 564.0,2812.8 573.5,2813.9 582.9,2815.1 592.4,2816.2 601.8,2817.3 611.3,2818.5 620.7,2819.6 630.2,2820.7 639.6,2821.8 649.0,2822.9 658.5,2824.0 667.9,2825.1 677.4,2826.2 686.8,2827.3 696.3,2828.4 705.7,2829.4 715.2,2830.5 724.6,2831.5 734.1,2832.6 743.5,2833.6 752.9,2834.7 762.4,2835.7 771.8,2836.7 781.3,2837.8 790.7,2838.8 800.2,2839.8 809.6,2840.8 819.1,2841.8 828.5,2842.8 838.0,2843.8 847.4,2844.8 856.8,2845.7 866.3,2846.7 875.7,2847.7 885.2,2848.6 894.6,2849.6 904.1,2850.5 913.5,2851.5 923.0,2852.4 932.4,2853.4 941.9,2854.3 951.3,2855.2 960.7,2856.2 970.2,2857.1 979.6,2858.0 989.1,2858.9 998.5,2859.8 1008.0,2860.7 1017.4,2861.6 1026.9,2862.5 1036.3,2863.4 1045.8,2864.3 1055.2,2865.2 1064.6,2866.0 1074.1,2866.9 1083.5,2867.8 1093.0,2868.6 1102.4,2869.5 1111.9,2870.4 1121.3,2871.2 1130.8,2872.1 1140.2,2872.9 1149.7,2873.7 1159.1,2874.6 1168.5,2875.4 1178.0,2876.2 1187.4,2877.1 1196.9,2877.9 1206.3,2878.7 1215.8,2879.5 1225.2,2880.3 1234.7,2881.1 1244.1,2881.9 1253.6,2882.7 1263.0,2883.5 1272.4,2884.3 1281.9,2885.1 1291.3,2885.9 1300.8,2886.7 1310.2,2887.4 1319.7,2888.2 1329.1,2889.0 1338.6,2889.8 1348.0,2890.5 1357.5,2891.3 1366.9,2892.0 1376.3,2892.8 1385.8,2893.5 1395.2,2894.3 1404.7,2895.0 1414.1,2895.8 1423.6,2896.5 1433.0,2897.3 1442.5,2898.0 1451.9,2898.7 1461.4,2899.5 1470.8,2900.2 1480.2,2900.9 1489.7,2901.6 1499.1,2902.3 1508.6,2903.0 1518.0,2903.8 1527.5,2904.5 1536.9,2905.2 1546.4,2905.9 1555.8,2906.6 1565.3,2907.3 1574.7,2908.0 1584.1,2908.6 1593.6,2909.3 1603.0,2910.0 1612.5,2910.7 1621.9,2911.4 1631.4,2912.1 1640.8,2912.7 1650.3,2913.4 1659.7,2914.1 1669.2,2914.7 1678.6,2915.4 1688.0,2916.1 1697.5,2916.7 1706.9,2917.4 1716.4,2918.0 1725.8,2918.7 1735.3,2919.3 1744.7,2920.0 1754.2,2920.6 1763.6,2921.3 1773.1,2921.9 1782.5,2922.5 1791.9,2923.2 1801.4,2923.8 1810.8,2924.4 1820.3,2925.1 1829.7,2925.7 1839.2,2926.3 1848.6,2926.9 1858.1,2927.6 1867.5,2928.2 1877.0,2928.8 1886.4,2929.4 1895.8,2930.0 1905.3,2930.6 1914.7,2931.2 1924.2,2931.8 1933.6,2932.4 1943.1,2933.0 1952.5,2933.6 1962.0,2934.2 1971.4,2934.8 1980.9,2935.4 1990.3,2936.0 1999.7,2936.6 2009.2,2937.2 2018.6,2937.8 2028.1,2938.3 2037.5,2938.9 2047.0,2939.5 2056.4,2940.1 2065.9,2940.6 2075.3,2941.2 2084.8,2941.8 2094.2,2942.4 2103.6,2942.9 2113.1,2943.5 2122.5,2944.0 2132.0,2944.6 2141.4,2945.2 2150.9,2945.7" fill="none" stroke="#000" stroke-width="4.1" stroke-dasharray="27.24 25.72"/>
<polyline points="412.9,3036.2 422.4,3041.6 431.8,3047.0 441.2,3052.3 450.7,3057.5 460.1,3062.6 469.6,3067.8 479.0,3072.8 488.5,3077.8 497.9,3082.8 507.4,3087.7 516.8,3092.5 526.3,3097.3 535.7,3102.0 545.1,3106.7 554.6,3111.4 564.0,3116.0 573.5,3120.5 582.9,3125.0 592.4,3129.5 601.8,3133.9 611.3,3138.3 620.7,3142.6 630.2,3146.9 639.6,3151.1 649.0,3155.3 658.5,3159.5 667.9,3163.6 677.4,3167.7 686.8,3171.7 696.3,3175.7 705.7,3179.7 715.2,3183.6 724.6,3187.5 734.1,3191.4 743.5,3195.2 752.9,3199.0 762.4,3202.7 771.8,3206.4 781.3,3210.1 790.7,3213.7 800.2,3217.3 809.6,3220.9 819.1,3224.5 828.5,3228.0 838.0,3231.5 847.4,3234.9 856.8,3238.3 866.3,3241.7 875.7,3245.1 885.2,3248.4 894.6,3251.7 904.1,3255.0 913.5,3258.2 923.0,3261.5 932.4,3264.6 941.9,3267.8 951.3,3270.9 960.7,3274.1 970.2,3277.1 979.6,3280.2 989.1,3283.2 998.5,3286.2 1008.0,3289.2 1017.4,3292.2 1026.9,3295.1 1036.3,3298.0 1045.8,3300.9 1055.2,3303.8 1064.6,3306.6 1074.1,3309.4 1083.5,3312.2 1093.0,3315.0 1102.4,3317.7 1111.9,3320.5 1121.3,3323.2 1130.8,3325.8 1140.2,3328.5 1149.7,3331.2 1159.1,3333.8 1168.5,3336.4 1178.0,3339.0 1187.4,3341.5 1196.9,3344.1 1206.3,3346.6 1215.8,3349.1 1225.2,3351.6 1234.7,3354.0 1244.1,3356.5 1253.6,3358.9 1263.0,3361.3 1272.4,3363.7 1281.9,3366.1 1291.3,3368.5 1300.8,3370.8 1310.2,3373.1 1319.7,3375.4 1329.1,3377.7 1338.6,3380.0 1348.0,3382.3 1357.5,3384.5 1366.9,3386.7 1376.3,3388.9 1385.8,3391.1 1395.2,3393.3 1404.7,3395.5 1414.1,3397.6 1423.6,3399.8 1433.0,3401.9 1442.5,3404.0 1451.9,3406.1 1461.4,3408.1 1470.8,3410.2 1480.2,3412.2 1489.7,3414.3 1499.1,3416.3 1508.6,3418.3 1518.0,3420.3 1527.5,3422.3 1536.9,3424.2 1546.4,3426.2 1555.8,3428.1 1565.3,3430.0 1574.7,3432.0 1584.1,3433.8 1593.6,3435.7 1603.0,3437.6 1612.5,3439.5 1621.9,3441.3 1631.4,3443.2 1640.8,3445.0 1650.3,3446.8 1659.7,3448.6 1669.2,3450.4 1678.6,3452.2 1688.0,3453.9 1697.5,3455.7 1706.9,3457.4 1716.4,3459.2 1725.8,3460.9 1735.3,3462.6 1744.7,3464.3 1754.2,3466.0 1763.6,3467.7 1773.1,3469.4 1782.5,3471.0 1791.9,3472.7 1801.4,3474.3 1810.8,3475.9 1820.3,3477.6 1829.7,3479.2 1839.2,3480.8 1848.6,3482.4 1858.1,3483.9 1867.5,3485.5 1877.0,3487.1 1886.4,3488.6 1895.8,3490.2 1905.3,3491.7 1914.7,3493.2 1924.2,3494.7 1933.6,3496.3 1943.1,3497.8 1952.5,3499.2 1962.0,3500.7 1971.4,3502.2 1980.9,3503.7 1990.3,3505.1 1999.7,3506.6 2009.2,3508.0 2018.6,3509.4 2028.1,3510.9 2037.5,3512.3 2047.0,3513.7 2056.4,3515.1 2065.9,3516.5 2075.3,3517.8 2084.8,3519.2 2094.2,3520.6 2103.6,3521.9 2113.1,3523.3 2122.5,3524.6 2132.0,3526.0 2141.4,3527.3 2150.9,3528.6" fill="none" stroke="#ff0000" stroke-width="4.1" stroke-dasharray="27.23 25.71"/>
<polyline points="412.9,3537.5 422.4,3539.2 431.8,3540.9 441.2,3542.6 450.7,3544.2 460.1,3545.8 469.6,3547.5 479.0,3549.1 488.5,3550.7 497.9,3552.2 507.4,3553.8 516.8,3555.4 526.3,3556.9 535.7,3558.4 545.1,3559.9 554.6,3561.4 564.0,3562.9 573.5,3564.4 582.9,3565.8 592.4,3567.3 601.8,3568.7 611.3,3570.1 620.7,3571.5 630.2,3572.9 639.6,3574.3 649.0,3575.7 658.5,3577.1 667.9,3578.4 677.4,3579.8 686.8,3581.1 696.3,3582.4 705.7,3583.7 715.2,3585.0 724.6,3586.3 734.1,3587.6 743.5,3588.9 752.9,3590.2 762.4,3591.4 771.8,3592.7 781.3,3593.9 790.7,3595.1 800.2,3596.3 809.6,3597.5 819.1,3598.7 828.5,3599.9 838.0,3601.1 847.4,3602.3 856.8,3603.4 866.3,3604.6 875.7,3605.7 885.2,3606.9 894.6,3608.0 904.1,3609.1 913.5,3610.2 923.0,3611.3 932.4,3612.4 941.9,3613.5 951.3,3614.6 960.7,3615.7 970.2,3616.8 979.6,3617.8 989.1,3618.9 998.5,3619.9 1008.0,3621.0 1017.4,3622.0 1026.9,3623.0 1036.3,3624.0 1045.8,3625.0 1055.2,3626.0 1064.6,3627.0 1074.1,3628.0 1083.5,3629.0 1093.0,3630.0 1102.4,3631.0 1111.9,3631.9 1121.3,3632.9 1130.8,3633.8 1140.2,3634.8 1149.7,3635.7 1159.1,3636.7 1168.5,3637.6 1178.0,3638.5 1187.4,3639.4 1196.9,3640.3 1206.3,3641.2 1215.8,3642.1 1225.2,3643.0 1234.7,3643.9 1244.1,3644.8 1253.6,3645.7 1263.0,3646.6 1272.4,3647.4 1281.9,3648.3 1291.3,3649.1 1300.8,3650.0 1310.2,3650.8 1319.7,3651.7 1329.1,3652.5 1338.6,3653.3 1348.0,3654.2 1357.5,3655.0 1366.9,3655.8 1376.3,3656.6 1385.8,3657.4 1395.2,3658.2 1404.7,3659.0 1414.1,3659.8 1423.6,3660.6 1433.0,3661.4 1442.5,3662.2 1451.9,3662.9 1461.4,3663.7 1470.8,3664.5 1480.2,3665.2 1489.7,3666.0 1499.1,3666.7 1508.6,3667.5 1518.0,3668.2 1527.5,3669.0 1536.9,3669.7 1546.4,3670.4 1555.8,3671.2 1565.3,3671.9 1574.7,3672.6 1584.1,3673.3 1593.6,3674.0 1603.0,3674.7 1612.5,3675.4 1621.9,3676.1 1631.4,3676.8 1640.8,3677.5 1650.3,3678.2 1659.7,3678.9 1669.2,3679.6 1678.6,3680.3 1688.0,3680.9 1697.5,3681.6 1706.9,3682.3 1716.4,3683.0 1725.8,3683.6 1735.3,3684.3 1744.7,3684.9 1754.2,3685.6 1763.6,3686.2 1773.1,3686.9 1782.5,3687.5 1791.9,3688.1 1801.4,3688.8 1810.8,3689.4 1820.3,3690.0 1829.7,3690.7 1839.2,3691.3 1848.6,3691.9 1858.1,3692.5 1867.5,3693.1 1877.0,3693.7 1886.4,3694.3 1895.8,3694.9 1905.3,3695.5 1914.7,3696.1 1924.2,3696.7 1933.6,3697.3 1943.1,3697.9 1952.5,3698.5 1962.0,3699.1 1971.4,3699.7 1980.9,3700.2 1990.3,3700.8 1999.7,3701.4 2009.2,3702.0 2018.6,3702.5 2028.1,3703.1 2037.5,3703.7 2047.0,3704.2 2056.4,3704.8 2065.9,3705.3 2075.3,3705.9 2084.8,3706.4 2094.2,3707.0 2103.6,3707.5 2113.1,3708.1 2122.5,3708.6 2132.0,3709.1 2141.4,3709.7 2150.9,3710.2" fill="none" stroke="#0000ff" stroke-width="4.1" stroke-dasharray="27.19 25.68"/>
<g style="font-family:'Liberation Serif','Times New Roman',serif;font-size:65px;letter-spacing:0.8px">
<g fill="#000"><rect x="1944.3" y="2498.0" width="33" height="33"/></g><text x="2052.6" y="2537">300 rpm</text>
<g fill="#ff0000"><circle cx="1960.8" cy="2596.3" r="18.8"/></g><text x="2052.6" y="2618.7">600 rpm</text>
<g fill="#0000ff"><path d="M1938.3 2691.8h45l-22.5 -38.6z"/></g><text x="2052.6" y="2700">900 rpm</text>
</g>
<text x="1113.5" y="4500" text-anchor="middle" style="font-family:'Liberation Serif','Times New Roman',serif;font-size:86px"><tspan dx="0">(</tspan><tspan font-weight="bold" dx="0">b</tspan><tspan dx="0">)</tspan></text>
</svg>
</body></html>
